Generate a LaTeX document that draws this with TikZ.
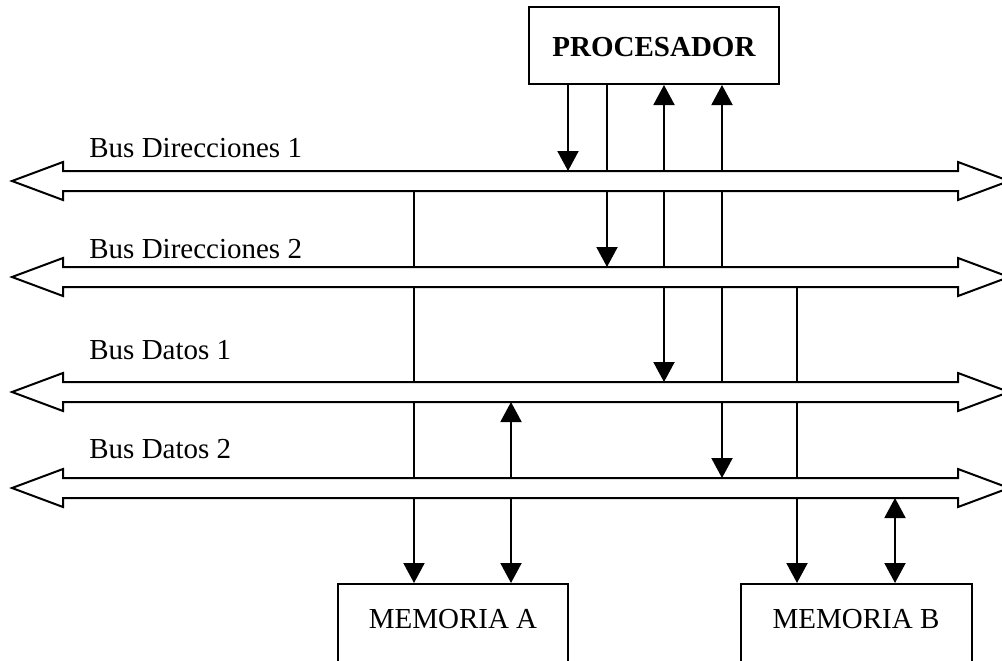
\documentclass[tikz,border=0pt]{standalone}
\usepackage{fontspec}
\setmainfont{Liberation Serif}
\usepackage{tikz}
\usetikzlibrary{arrows.meta, positioning, calc}

\tikzset{
  tip/.tip={Triangle[width=10.5pt, length=10pt]},
  wire/.style={line width=1pt},
  sig/.style={wire, -tip},
  dsig/.style={wire, tip-tip},
  bus/.style={line width=1pt, fill=white, line join=miter},
  buslabel/.style={font=\fontsize{14.5}{17}\selectfont, anchor=base west, inner sep=0pt},
  unit/.style={draw, line width=1pt, inner ysep=0pt, anchor=base,
    font=\fontsize{14.5}{17}\selectfont}
}

\begin{document}
\begin{tikzpicture}[x=0.5pt, y=-0.5pt]
  \useasboundingbox (0, 0) rectangle (1002, 660);

  % Units
  \node[unit, font=\fontsize{14.5}{17}\selectfont\bfseries, minimum width=125pt,
    text height=24.5pt, text depth=14pt] (proc) at (654, 56) {PROCESADOR};
  \node[unit, minimum width=115pt, text height=22pt, text depth=40pt]
    (memA) at (453, 628) {MEMORIA A};
  \node[unit, minimum width=115.5pt, text height=22pt, text depth=40pt]
    (memB) at (856, 628) {MEMORIA B};

  % Bus edges (top and bottom line of each shaft)
  \coordinate (dir1t) at (0, 171);  \coordinate (dir1b) at (0, 191);
  \coordinate (dir2t) at (0, 267);  \coordinate (dir2b) at (0, 287);
  \coordinate (dat1t) at (0, 382);  \coordinate (dat1b) at (0, 402);
  \coordinate (dat2t) at (0, 478);  \coordinate (dat2b) at (0, 498);

  % Processor side
  \draw[sig]  (proc.south -| 568,0) -- (568,0 |- dir1t);
  \draw[sig]  (proc.south -| 607,0) -- (607,0 |- dir2t);
  \draw[dsig] (proc.south -| 664,0) -- (664,0 |- dat1t);
  \draw[dsig] (proc.south -| 722,0) -- (722,0 |- dat2t);

  % Memory A
  \draw[sig]  (414,0 |- dir1b) -- (memA.north -| 414,0);
  \draw[dsig] (511,0 |- dat1b) -- (memA.north -| 511,0);

  % Memory B
  \draw[sig]  (797,0 |- dir2b) -- (memB.north -| 797,0);
  \draw[dsig] (895,0 |- dat2b) -- (memB.north -| 895,0);

  % Buses: wide double arrows, drawn last so they hide the crossings
  \draw[bus] (12, 181) -- (63, 162) -- (63, 171) -- (958, 171) -- (958, 162)
    -- (1009, 181) -- (958, 200) -- (958, 191) -- (63, 191) -- (63, 200) -- cycle;
  \node[buslabel] (ldir1) at (89, 157) {Bus Direcciones 1};

  \draw[bus] (12, 277) -- (63, 258) -- (63, 267) -- (958, 267) -- (958, 258)
    -- (1009, 277) -- (958, 296) -- (958, 287) -- (63, 287) -- (63, 296) -- cycle;
  \node[buslabel] (ldir2) at (89, 258) {Bus Direcciones 2};

  \draw[bus] (12, 392) -- (63, 373) -- (63, 382) -- (958, 382) -- (958, 373)
    -- (1009, 392) -- (958, 411) -- (958, 402) -- (63, 402) -- (63, 411) -- cycle;
  \node[buslabel] (ldat1) at (89, 359) {Bus Datos 1};

  \draw[bus] (12, 488) -- (63, 469) -- (63, 478) -- (958, 478) -- (958, 469)
    -- (1009, 488) -- (958, 507) -- (958, 498) -- (63, 498) -- (63, 507) -- cycle;
  \node[buslabel] (ldat2) at (89, 458) {Bus Datos 2};
\end{tikzpicture}
\end{document}
